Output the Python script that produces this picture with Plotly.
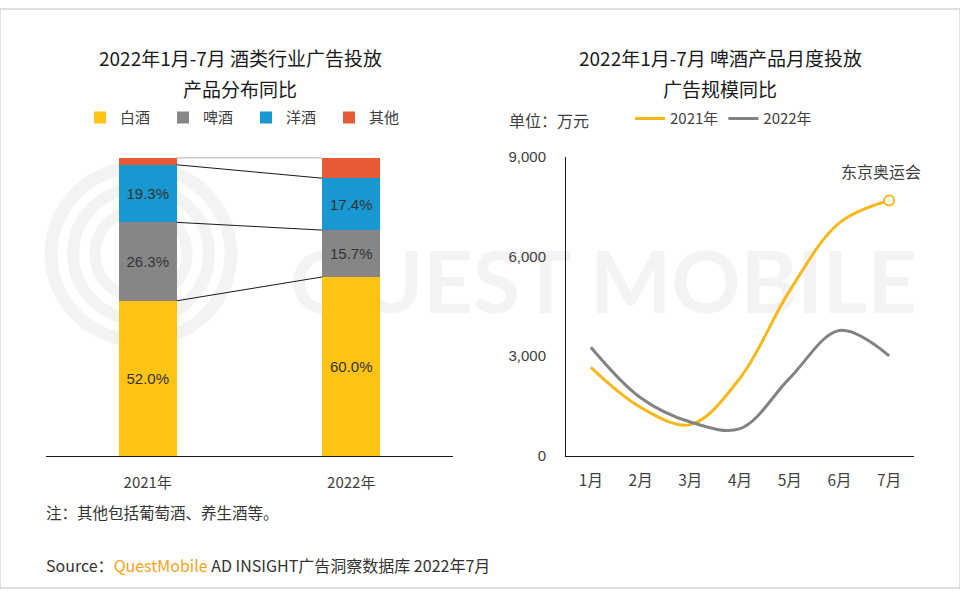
import base64
import plotly.graph_objects as go
import numpy as np

# left chart: share of ad spend by product type (%)
years = ["2021年", "2022年"]
segments = ["白酒", "啤酒", "洋酒", "其他"]
share_2021 = [52.0, 26.3, 19.3, 2.4]
share_2022 = [60.0, 15.7, 17.4, 6.9]
seg_colors = ["#FEC314", "#868686", "#1898D0", "#E85A33"]

# right chart: beer monthly ad spend (万元)
months = ["1月", "2月", "3月", "4月", "5月", "6月", "7月"]
beer_2021 = [2660, 1460, 940, 2340, 4970, 7010, 7680]
beer_2022 = [3270, 1750, 1020, 820, 2340, 3770, 3010]

CJK = "Noto Sans CJK SC, Microsoft YaHei, sans-serif"
NUM = "Arial, Liberation Sans, sans-serif"
BAR_W = 0.285

fig = go.Figure()

xpos = np.arange(len(years))
for i, seg in enumerate(segments):
    vals = [share_2021[i], share_2022[i]]
    fig.add_trace(go.Bar(
        x=xpos, y=vals, name=seg, width=BAR_W,
        marker=dict(color=seg_colors[i], line=dict(width=0)),
        text=[f"{v:.1f}%" for v in vals] if seg != "其他" else None,
        textposition="inside", insidetextanchor="middle",
        textfont=dict(family=NUM, size=15, color="#333333"),
        legend="legend", xaxis="x", yaxis="y",
        hoverinfo="skip",
    ))

# series lines between the two bars
cum21 = np.cumsum(share_2021)
cum22 = np.cumsum(share_2022)
for a, b in zip(cum21, cum22):
    fig.add_trace(go.Scatter(
        x=[xpos[0] + BAR_W / 2, xpos[1] - BAR_W / 2], y=[a, b],
        mode="lines", line=dict(color="#1a1a1a", width=1),
        showlegend=False, xaxis="x", yaxis="y", hoverinfo="skip",
    ))

fig.add_trace(go.Scatter(
    x=months, y=beer_2021, name="2021年", mode="lines",
    line=dict(color="#F5B91C", width=3, shape="spline", smoothing=1.0),
    legend="legend2", xaxis="x2", yaxis="y2",
))
fig.add_trace(go.Scatter(
    x=months, y=beer_2022, name="2022年", mode="lines",
    line=dict(color="#838383", width=3, shape="spline", smoothing=1.0),
    legend="legend2", xaxis="x2", yaxis="y2",
))
fig.add_trace(go.Scatter(
    x=[months[-1]], y=[beer_2021[-1]], mode="markers",
    marker=dict(size=10, color="white", line=dict(color="#F5B91C", width=2)),
    showlegend=False, xaxis="x2", yaxis="y2",
))

title_font = dict(family=CJK, size=19, color="#1a1a1a")


def paper_text(text, x, y, size=14, color="#404040", anchor="left", font=None):
    return dict(text=text, x=x / 960, y=1 - y / 596, xref="paper", yref="paper",
                xanchor=anchor, yanchor="middle", showarrow=False,
                font=font or dict(family=CJK, size=size, color=color))


annotations = [
    paper_text("2022年1月-7月 酒类行业广告投放", 240, 50, anchor="center", font=title_font),
    paper_text("产品分布同比", 240, 82, anchor="center", font=title_font),
    paper_text("2022年1月-7月 啤酒产品月度投放", 720, 50, anchor="center", font=title_font),
    paper_text("广告规模同比", 720, 82, anchor="center", font=title_font),
    paper_text("单位：万元", 507, 114, size=16),
    dict(text="东京奥运会", x=months[-1], y=beer_2021[-1], xref="x2", yref="y2",
         xshift=-8, yshift=30, showarrow=False,
         font=dict(family=CJK, size=16, color="#404040")),
    paper_text("注：其他包括葡萄酒、养生酒等。", 44, 518, size=15.5, color="#333333"),
    paper_text("Source：<span style='color:#F5A31A'>QuestMobile</span> AD INSIGHT广告洞察数据库 2022年7月",
               44, 572, size=16, color="#333333"),
]

# faint background watermark, drawn as an image below the plots
wm_svg = (
    '<svg xmlns="http://www.w3.org/2000/svg" width="960" height="596" viewBox="0 0 960 596">'
    '<g fill="none" stroke="#F3F3F3">'
    '<circle cx="141" cy="252" r="90" stroke-width="13"/>'
    '<circle cx="141" cy="252" r="68" stroke-width="12"/>'
    '<circle cx="141" cy="252" r="46" stroke-width="11"/>'
    '</g>'
    '<text x="290" y="313" font-family="Lato, Open Sans, sans-serif" font-weight="bold" '
    'font-size="88" textLength="627" lengthAdjust="spacingAndGlyphs" fill="#F3F3F3">QUEST MOBILE</text>'
    '</svg>'
)
wm_src = "data:image/svg+xml;base64," + base64.b64encode(wm_svg.encode("utf-8")).decode("ascii")

fig.update_layout(
    width=960, height=596, margin=dict(l=0, r=0, t=0, b=0),
    paper_bgcolor="white", plot_bgcolor="rgba(0,0,0,0)",
    barmode="stack",
    font=dict(family=CJK, color="#404040"),
    xaxis=dict(domain=[46 / 960, 453 / 960], range=[-0.5, 1.5], tickvals=list(xpos), ticktext=years,
               showline=True, linecolor="#1a1a1a", linewidth=1, showgrid=False, zeroline=False,
               ticks="", ticklabelstandoff=13, tickfont=dict(family=CJK, size=15, color="#404040"),
               fixedrange=True),
    yaxis=dict(domain=[1 - 460 / 596, 1 - 153 / 596], range=[0, 100], visible=False, fixedrange=True),
    xaxis2=dict(domain=[566 / 960, 914 / 960], range=[-0.5, 6.5], anchor="y2",
                showline=True, linecolor="#1a1a1a", linewidth=1, showgrid=False, zeroline=False,
                ticks="", ticklabelstandoff=11, tickfont=dict(family=CJK, size=15.5, color="#404040")),
    yaxis2=dict(domain=[1 - 460 / 596, 1 - 152 / 596], range=[0, 9000], dtick=3000, anchor="x2",
                tickformat=",", showline=True, linecolor="#1a1a1a", linewidth=1, showgrid=False,
                zeroline=False, ticks="", ticklabelstandoff=16,
                tickfont=dict(family=NUM, size=15, color="#404040")),
    legend=dict(orientation="h", x=80 / 960, y=1 - 112 / 596, xanchor="left", yanchor="middle",
                font=dict(family=CJK, size=15, color="#404040"), traceorder="normal",
                entrywidth=38, itemwidth=30, bgcolor="rgba(0,0,0,0)"),
    legend2=dict(orientation="h", x=630 / 960, y=1 - 113 / 596, xanchor="left", yanchor="middle",
                 font=dict(family=CJK, size=15, color="#404040"), traceorder="normal",
                 bgcolor="rgba(0,0,0,0)"),
    annotations=annotations,
    shapes=[dict(type="rect", xref="paper", yref="paper", x0=0, y0=0, x1=1, y1=1,
                 line=dict(color="#BFBFBF", width=1))],
    images=[dict(source=wm_src, xref="paper", yref="paper", x=0, y=1, sizex=1, sizey=1,
                 xanchor="left", yanchor="top", sizing="stretch", layer="below")],
    showlegend=True,
)

fig.write_html("out.html", config={"displayModeBar": False},
               post_script="document.body.style.margin='0';document.body.style.padding='0';")
